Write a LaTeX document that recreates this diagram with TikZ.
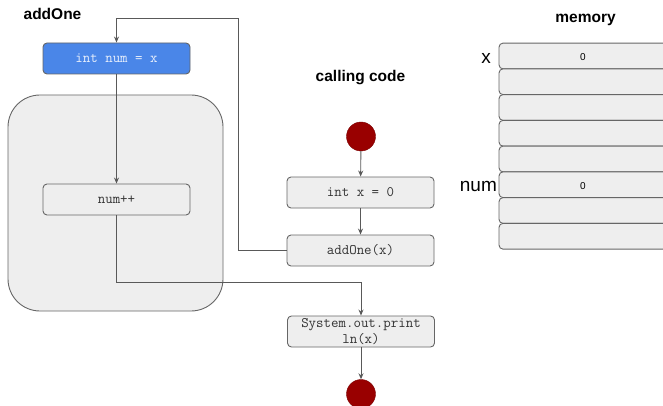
\documentclass[tikz,border=0pt]{standalone}
\usepackage{fontspec}
\setmainfont{Liberation Sans}
\usetikzlibrary{arrows.meta}
\definecolor{boxfill}{HTML}{EEEEEE}
\definecolor{boxline}{HTML}{666666}
\definecolor{wire}{HTML}{595959}
\definecolor{callblue}{HTML}{4A86E8}
\definecolor{dotred}{HTML}{990000}
\definecolor{codetext}{HTML}{333333}
\tikzset{
  codebox/.style={draw=boxline, fill=boxfill, rounded corners=4pt, line width=0.9pt,
    minimum width=147pt, minimum height=31pt, inner sep=0pt, align=center,
    font=\ttfamily\fontsize{14.5}{15.5}\selectfont, text=codetext},
  bluebox/.style={codebox, fill=callblue, text=white!88!callblue},
  enddot/.style={circle, fill=dotred, draw=dotred!80!black, minimum size=29pt, inner sep=0pt},
  heading/.style={font=\bfseries\fontsize{15.5}{18}\selectfont},
  cell/.style={draw=boxline, fill=boxfill, rounded corners=4pt, line width=0.9pt,
    minimum width=168pt, minimum height=25.75pt, inner sep=0pt,
    font=\fontsize{10.5}{12}\selectfont, text=boxline},
  cellname/.style={font=\fontsize{19}{21}\selectfont, anchor=east, inner sep=1.5pt},
  flow/.style={draw=wire, line width=0.9pt, -{Stealth[length=6pt,width=5pt]}},
}
\begin{document}
\begin{tikzpicture}[x=1pt, y=-1pt]
\useasboundingbox (0,0) rectangle (663,406);

% addOne method body
\node[heading] (hAdd) at (52.5,14) {addOne};
\node[draw=boxline, fill=boxfill, rounded corners=32pt, line width=0.9pt,
  minimum width=215pt, minimum height=216pt, inner sep=0pt] (body) at (115.5,203) {};
\node[bluebox] (decl) at (116.5,58.5) {int num = x};
\node[codebox] (inc) at (116.5,199.5) {num++};

% calling code
\node[heading] (hCall) at (360.5,78) {calling code};
\node[enddot] (start) at (361,136.5) {};
\node[codebox] (initx) at (360.5,192.5) {int x = 0};
\node[codebox] (call) at (360.5,250.5) {addOne(x)};
\node[codebox] (print) at (361,331.5) {System.out.print\\ln(x)};
\node[enddot] (stop) at (361,394) {};

% memory cells
\node[heading] (hMem) at (585.5,20) {memory};
\foreach \i in {0,...,7}{
  \node[cell] (m\i) at (583,{56+25.75*\i}) {};
}
\node at ([yshift=-1pt]m0.center) {0};
\node at ([yshift=-1pt]m5.center) {0};
\node[cellname] (lx) at ([xshift=-6pt,yshift=-2pt]m0.west) {x};
\node[cellname] (lnum) at ([yshift=-2pt]m5.west) {num};

% connectors
\coordinate (callTurn) at (238,250.5);
\coordinate (callTop) at (238,18);
\coordinate (declTop) at (116.5,18);
\coordinate (retLow) at (116.5,282);
\coordinate (retRight) at (361,282);

\draw[flow] (start) -- (initx);
\draw[flow] (initx) -- (call);
\draw[flow] (call.west) -- (callTurn) -- (callTop) -- (declTop) -- (decl.north);
\draw[flow] (decl) -- (inc);
\draw[flow] (inc.south) -- (retLow) -- (retRight) -- (print.north);
\draw[flow] (print) -- (stop);
\end{tikzpicture}
\end{document}
